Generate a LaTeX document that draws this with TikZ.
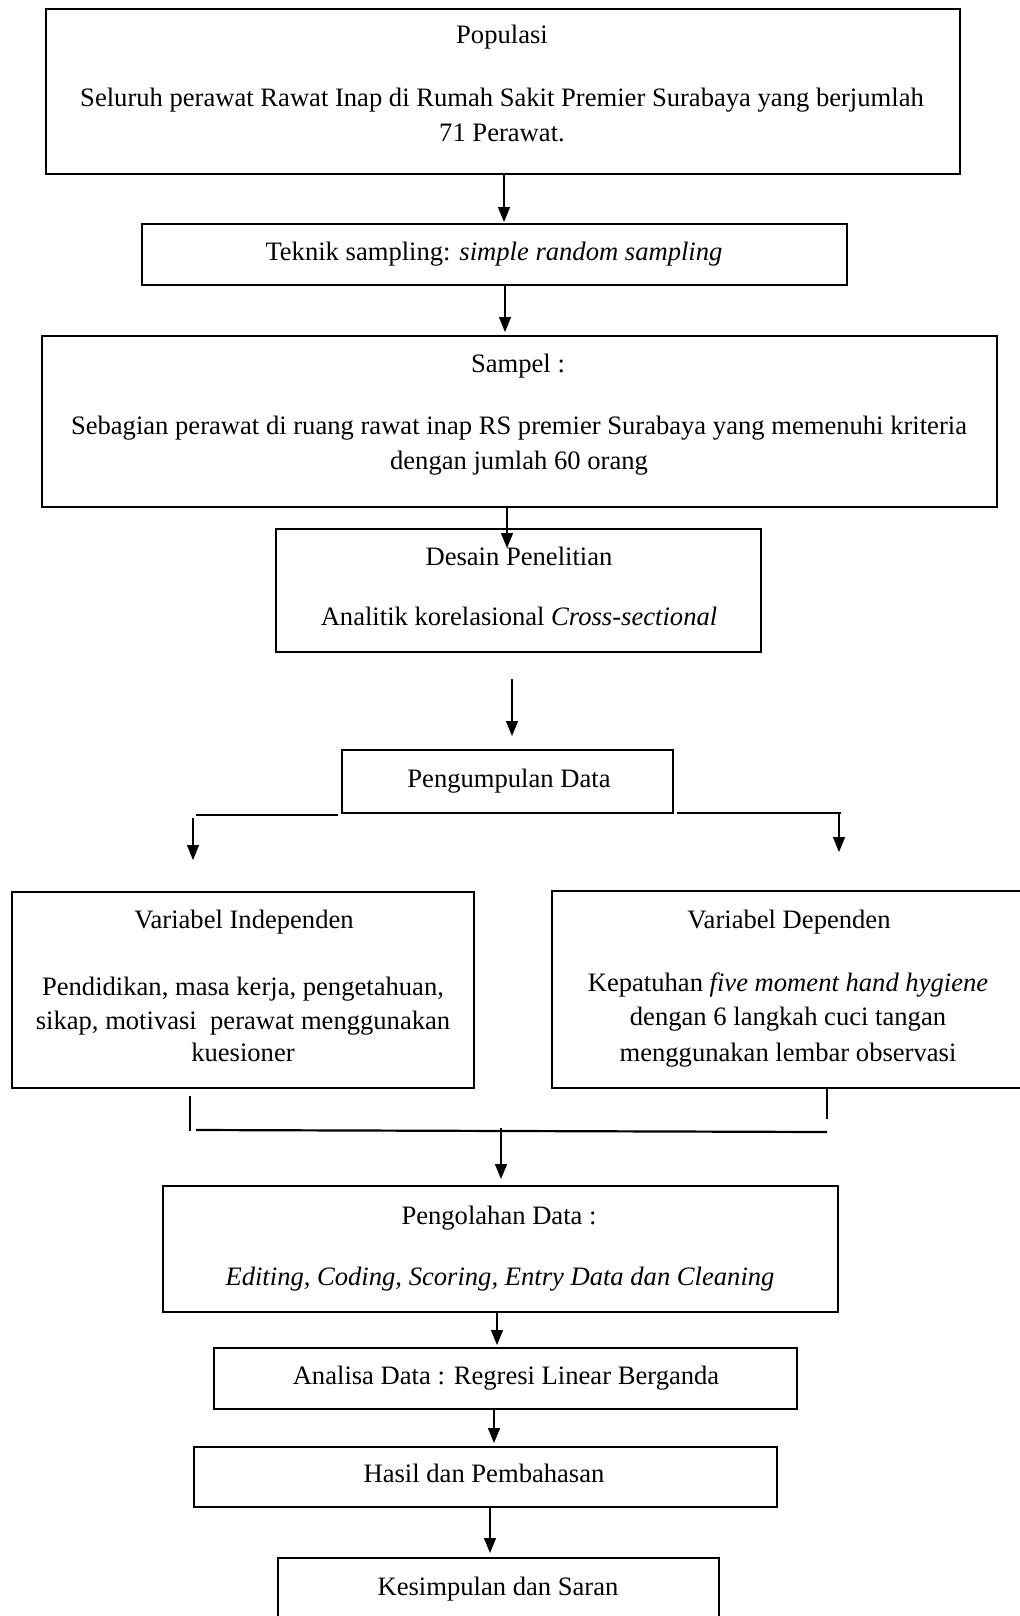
\documentclass[tikz,border=0pt]{standalone}
\usepackage{fontspec}
\setmainfont{Liberation Serif}
\usetikzlibrary{arrows.meta}
\newcommand\diagfont{\fontsize{13.3pt}{16pt}\selectfont}
\begin{document}
\begin{tikzpicture}[x=0.5pt,y=-0.5pt,
  box/.style={draw, line width=1pt, inner sep=0pt, outer sep=0pt, anchor=north west},
  txt/.style={anchor=base, inner sep=0pt, font=\diagfont},
  arr/.style={line width=0.7pt, -{Triangle[length=7.5pt,width=6pt]}},
  thin/.style={line width=0.6pt},
  thick/.style={line width=1.1pt}]
\useasboundingbox[fill=white] (0,0) rectangle (1019,1616);

% boxes
\node[box, minimum width=457pt, minimum height=82.5pt] (pop) at (46,9) {};
\node[box, minimum width=352.5pt, minimum height=30.5pt] (tek) at (142,224) {};
\node[box, minimum width=477.5pt, minimum height=85.5pt] (sam) at (42,336) {};
\node[box, minimum width=242.5pt, minimum height=61.5pt] (des) at (276,529) {};
\node[box, minimum width=165.5pt, minimum height=31.5pt] (pen) at (342,750) {};
\node[box, minimum width=231pt, minimum height=98pt] (ind) at (12,892) {};
\node[box, minimum width=239pt, minimum height=98.5pt] (dep) at (552,891) {};
\node[box, minimum width=337.5pt, minimum height=63pt] (olah) at (163,1186) {};
\node[box, minimum width=291.5pt, minimum height=30.5pt] (ana) at (214,1348) {};
\node[box, minimum width=291.5pt, minimum height=30pt] (has) at (194,1447) {};
\node[box, minimum width=220.5pt, minimum height=46pt] (kes) at (278,1558) {};

% texts
\node[txt] (popA) at (502,44) {Populasi};
\node[txt] (popB) at (502,107) {Seluruh perawat Rawat Inap di Rumah Sakit Premier Surabaya yang berjumlah};
\node[txt] (popC) at (502,141) {71 Perawat.};
\node[txt] (tekA) at (494,260) {Teknik sampling: \textit{simple random sampling}};
\node[txt] (samA) at (518,372) {Sampel :};
\node[txt] (samB) at (519,434) {Sebagian perawat di ruang rawat inap RS premier Surabaya yang memenuhi kriteria};
\node[txt] (samC) at (519,469) {dengan jumlah 60 orang};
\node[txt] (desA) at (519,565) {Desain Penelitian};
\node[txt] (desB) at (519,625) {Analitik korelasional \textit{Cross-sectional}};
\node[txt] (penA) at (509,787) {Pengumpulan Data};
\node[txt] (indA) at (244,928) {Variabel Independen};
\node[txt] (indB) at (243,995) {Pendidikan, masa kerja, pengetahuan,};
\node[txt] (indC) at (243,1029) {sikap, motivasi\ \ perawat menggunakan};
\node[txt] (indD) at (243,1061) {kuesioner};
\node[txt] (depA) at (789,928) {Variabel Dependen};
\node[txt] (depB) at (788,991) {Kepatuhan \textit{five moment hand hygiene}};
\node[txt] (depC) at (788,1025) {dengan 6 langkah cuci tangan};
\node[txt] (depD) at (788,1061) {menggunakan lembar observasi};
\node[txt] (olahA) at (499,1224) {Pengolahan Data :};
\node[txt] (olahB) at (500,1285) {\textit{Editing, Coding, Scoring, Entry Data dan Cleaning}};
\node[txt] (anaA) at (506,1384) {Analisa Data : Regresi Linear Berganda};
\node[txt] (hasA) at (484,1482) {Hasil dan Pembahasan};
\node[txt] (kesA) at (498,1595) {Kesimpulan dan Saran};

% connector coordinates
\coordinate (c1) at (504,222);
\coordinate (c2) at (505,332);
\coordinate (c3) at (507,548);
\coordinate (c4s) at (512,679);
\coordinate (c4e) at (512,736);
\coordinate (lh1) at (196,815);
\coordinate (lh2) at (338,815);
\coordinate (la1) at (193,818);
\coordinate (la2) at (193,860);
\coordinate (rh1) at (677,813);
\coordinate (rh2) at (841,813);
\coordinate (ra1) at (839,813);
\coordinate (ra2) at (839,852);
\coordinate (bl1) at (190,1096);
\coordinate (bl2) at (190,1131);
\coordinate (br1) at (827,1088);
\coordinate (br2) at (827,1119);
\coordinate (bh1) at (196,1130);
\coordinate (bh2) at (827,1132);
\coordinate (ba1) at (501,1128);
\coordinate (ba2) at (501,1179);
\coordinate (c5) at (497,1345);
\coordinate (c6) at (494,1443);
\coordinate (c7) at (490,1553);

% connectors
\draw[arr] (pop.south -| c1) -- (c1);
\draw[arr] (tek.south -| c2) -- (c2);
\draw[arr] (sam.south -| c3) -- (c3);
\draw[arr] (c4s) -- (c4e);
\draw[thick] (lh1) -- (lh2);
\draw[arr] (la1) -- (la2);
\draw[thick] (rh1) -- (rh2);
\draw[arr] (ra1) -- (ra2);
\draw[thin] (bl1) -- (bl2);
\draw[thin] (br1) -- (br2);
\draw[thick] (bh1) -- (bh2);
\draw[arr] (ba1) -- (ba2);
\draw[arr] (olah.south -| c5) -- (c5);
\draw[arr] (ana.south -| c6) -- (c6);
\draw[arr] (has.south -| c7) -- (c7);
\end{tikzpicture}
\end{document}
